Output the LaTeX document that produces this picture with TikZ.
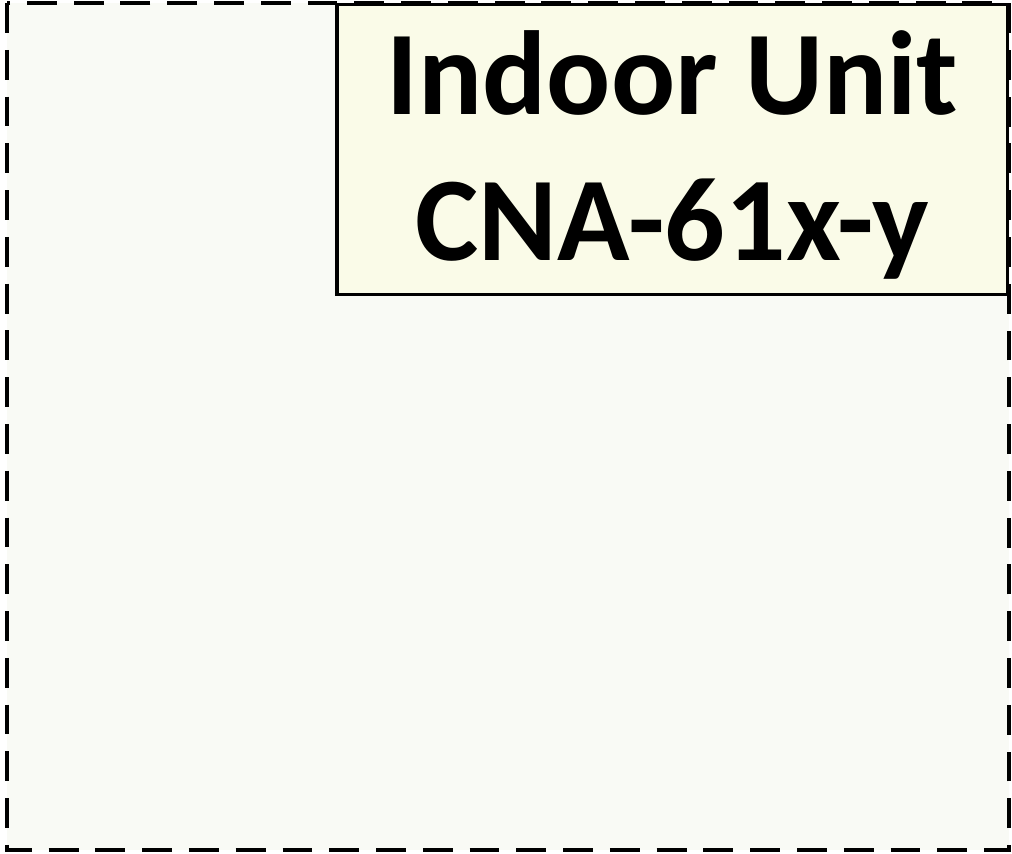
\documentclass[tikz,border=0pt]{standalone}
\usepackage{fontspec}
\setmainfont{Carlito}
\usepackage{tikz}
\definecolor{unitbg}{RGB}{249,250,245}
\definecolor{labelbg}{RGB}{250,251,232}
\usetikzlibrary{positioning}

\begin{document}
\begin{tikzpicture}[x=0.01cm, y=-0.01cm,
  unitframe/.style={draw=black, fill=unitbg, line width=1.05pt, dash pattern=on 8.5pt off 4.8pt},
  labelbox/.style={draw=black, fill=labelbg, line width=0.9pt, inner sep=0pt},
  every node/.style={font=\bfseries}]
\useasboundingbox (0,0) rectangle (1012,853);
% Unit outline
\draw[unitframe] (7,3) rectangle (1009,850);
% Name plate
\node[labelbox, anchor=north east, minimum width=6.7cm, minimum height=2.9cm] (plate) at (1009,3) {};
\node[font=\fontsize{34}{41.5}\selectfont\bfseries, align=center] (name) at ([yshift=-0.05cm]plate.center)
  {Indoor Unit\\CNA-61x-y};
\end{tikzpicture}
\end{document}
